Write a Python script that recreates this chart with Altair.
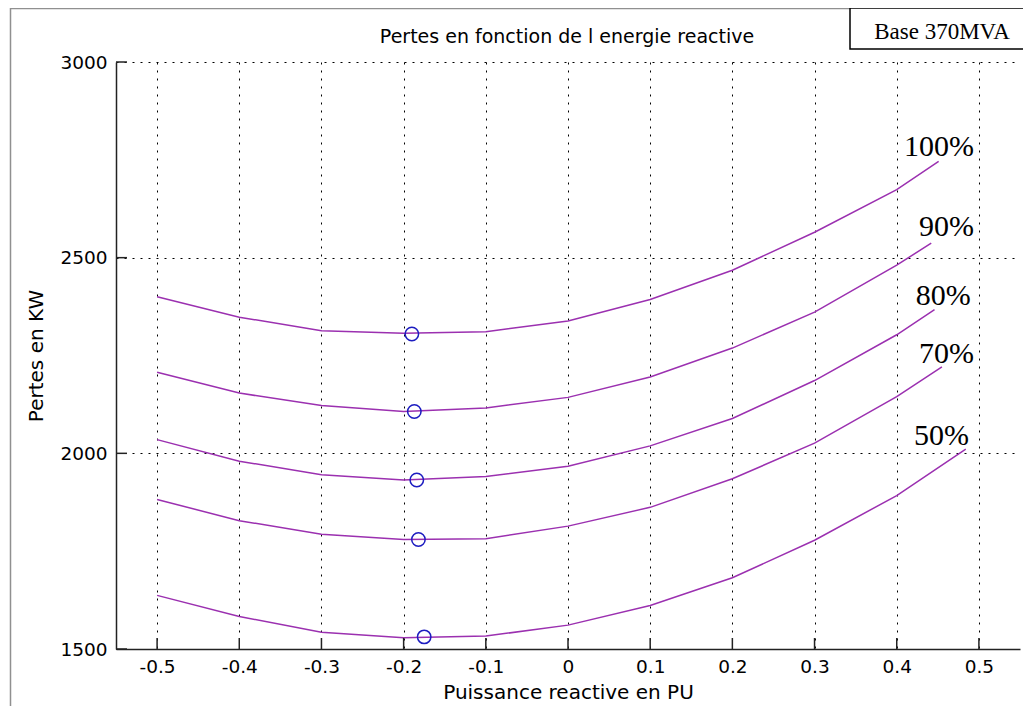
import altair as alt
import pandas as pd

# ---- data ----
q_points = [-0.5, -0.4, -0.3, -0.2, -0.1, 0.0, 0.1, 0.2, 0.3, 0.4]

series_names = ["100%", "90%", "80%", "70%", "50%"]
loss_100 = [2400, 2348, 2313, 2307, 2311, 2338, 2393, 2468, 2565, 2674]
loss_90 = [2207, 2154, 2122, 2107, 2116, 2143, 2195, 2269, 2361, 2481]
loss_80 = [2035, 1980, 1945, 1932, 1941, 1967, 2019, 2089, 2186, 2303]
loss_70 = [1882, 1828, 1793, 1780, 1782, 1814, 1862, 1935, 2026, 2145]
loss_50 = [1637, 1583, 1543, 1529, 1533, 1561, 1611, 1682, 1778, 1892]
end_q = [0.451, 0.442, 0.446, 0.455, 0.484]
end_loss = [2746, 2537, 2367, 2221, 2011]

min_q = [-0.190, -0.187, -0.184, -0.182, -0.175]
min_loss = [2305, 2107, 1932, 1780, 1531]

label_text = ["100%", "90%", "80%", "70%", "50%"]
label_q = [0.494, 0.494, 0.490, 0.494, 0.488]
label_loss = [2760, 2555, 2379, 2231, 2021]

x_ticks = [-0.5, -0.4, -0.3, -0.2, -0.1, 0.0, 0.1, 0.2, 0.3, 0.4, 0.5]
y_ticks = [1500, 2000, 2500, 3000]

title_text = "Pertes en fonction de l energie reactive"
x_title = "Puissance reactive en PU"
y_title = "Pertes en KW"
base_text = "Base 370MVA"

# ---- tables ----
rows = []
for name, vals, eq, el in zip(series_names, [loss_100, loss_90, loss_80, loss_70, loss_50], end_q, end_loss):
    for q, v in zip(q_points, vals):
        rows.append({"serie": name, "q": q, "loss": v})
    rows.append({"serie": name, "q": eq, "loss": el})
lines_df = pd.DataFrame(rows)
mins_df = pd.DataFrame({"q": min_q, "loss": min_loss})
labels_df = pd.DataFrame({"txt": label_text, "q": label_q, "loss": label_loss})
xt_df = pd.DataFrame({"q": x_ticks})
yt_df = pd.DataFrame({"loss": y_ticks})
one = pd.DataFrame({"k": [0]})

W, H = 904, 587
SANS = "DejaVu Sans"
SERIF = "Liberation Serif"

xscale = alt.Scale(domain=[-0.55, 0.55], nice=False, zero=False)
yscale = alt.Scale(domain=[1500, 3000], nice=False, zero=False)

x_axis = alt.Axis(
    values=x_ticks,
    labelExpr="datum.value == 0 ? '0' : replace(format(datum.value, '.1f'), '\u2212', '-')",
    tickSize=0, labelPadding=8, grid=True, gridDash=[2, 6], gridColor="black",
    gridWidth=1, gridOpacity=1, domainColor="#222", domainWidth=1.5,
    labelFont=SANS, labelFontSize=18.5, labelColor="black",
    title=x_title, titleFont=SANS, titleFontSize=20, titleFontWeight="normal",
    titleColor="black", titlePadding=7,
)
y_axis = alt.Axis(
    values=y_ticks, format="d",
    tickSize=0, labelPadding=9, grid=True, gridDash=[2, 6], gridColor="black",
    gridWidth=1, gridOpacity=1, domainColor="#222", domainWidth=1.5,
    labelFont=SANS, labelFontSize=18.5, labelColor="black",
    title=y_title, titleFont=SANS, titleFontSize=20, titleFontWeight="normal",
    titleColor="black", titlePadding=13,
)

X = alt.X("q:Q", scale=xscale, axis=x_axis)
Y = alt.Y("loss:Q", scale=yscale, axis=y_axis)

lines = alt.Chart(lines_df).mark_line(color="#9b30b0", strokeWidth=1.5).encode(
    x=X, y=Y, detail="serie:N", order="q:Q",
)

mins = alt.Chart(mins_df).mark_point(
    shape="circle", filled=False, color="#1c1cc0", size=180, strokeWidth=1.5, opacity=1
).encode(x=X, y=Y)

labels = alt.Chart(labels_df).mark_text(
    font=SERIF, fontSize=30, color="black", align="right", baseline="alphabetic"
).encode(x=X, y=Y, text="txt:N")

xticks = alt.Chart(xt_df).mark_rule(color="#222", strokeWidth=1.5).encode(
    x=X, y=alt.value(H), y2=alt.value(H - 11),
)
yticks = alt.Chart(yt_df).mark_rule(color="#222", strokeWidth=1.5).encode(
    y=Y, x=alt.value(0), x2=alt.value(11),
)

title = alt.Chart(one).mark_text(
    font=SANS, fontSize=19, color="black", align="center", baseline="alphabetic"
).encode(x=alt.value(W / 2 - 1), y=alt.value(-19), text=alt.value(title_text))

frame_left = alt.Chart(one).mark_rule(color="#909090", strokeWidth=1.5).encode(
    x=alt.value(-105.5), y=alt.value(-54), y2=alt.value(H + 80)
)
frame_top = alt.Chart(one).mark_rule(color="#909090", strokeWidth=1.5).encode(
    x=alt.value(-105.5), x2=alt.value(734), y=alt.value(-53.5)
)

base_box = alt.Chart(one).mark_rect(fill="white", stroke="black", strokeWidth=1.5).encode(
    x=alt.value(734), x2=alt.value(W + 40), y=alt.value(-54), y2=alt.value(-13)
)
base_label = alt.Chart(one).mark_text(
    font=SERIF, fontSize=23, color="black", align="center", baseline="alphabetic"
).encode(x=alt.value(826), y=alt.value(-23), text=alt.value(base_text))

chart = alt.layer(
    lines, mins, xticks, yticks, labels, frame_left, frame_top, title, base_box, base_label
).properties(
    width=W, height=H,
    autosize=alt.AutoSizeParams(type="none"),
    padding={"left": 108, "top": 54, "right": 3, "bottom": 57},
    background="white",
).configure_view(strokeWidth=0)

chart.save("out.html", embed_options={"renderer": "svg", "actions": False})
